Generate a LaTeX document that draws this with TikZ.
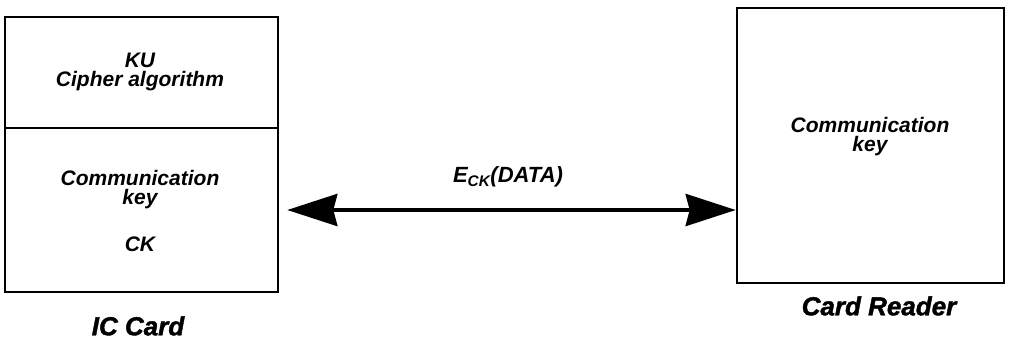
\documentclass[tikz,border=0pt]{standalone}
\usepackage{fontspec}
\setmainfont{Liberation Sans}
\newfontfamily\heavyfont[FakeBold=1.5]{Liberation Sans Bold Italic}
\usetikzlibrary{arrows.meta,calc}
\tikzset{
  box/.style={draw, line width=2.6pt, inner sep=0pt, minimum width=273pt},
  intext/.style={font=\fontsize{21}{19}\selectfont\bfseries\itshape, align=center, inner sep=0pt},
  caption/.style={font=\heavyfont\fontsize{26}{30}\selectfont, inner sep=0pt},
  link/.style={line width=4pt, {Stealth[length=50pt,width=32pt,inset=4pt]}-{Stealth[length=50pt,width=32pt,inset=4pt]}}
}
\begin{document}
\begin{tikzpicture}[x=1pt,y=-1pt]
\useasboundingbox (0,0) rectangle (1014,342);
% IC card
\node[box, minimum height=111pt] (ku) at (141.5,72.5) {};
\node[box, minimum height=164pt] (icb) at (141.5,210) {};
\node[box, minimum width=267pt, minimum height=275pt] (rd) at (870.5,145.5) {};
\node[intext] (kut) at (140,72) {KU\\Cipher algorithm};
\node[intext] (ckt) at (140,190) {Communication\\key};
\node[intext] (ck) at (140,244) {CK};
\node[intext] (rdt) at (870,137) {Communication\\key};
\node[caption] (icl) at (138,326) {IC Card};
\node[caption] (rdl) at (879,306) {Card Reader};
% arrow
\coordinate (ae) at (icb.east -| rd.west);
\draw[link, shorten <=8pt] (icb.east) -- (ae);
\node[font=\fontsize{22}{26}\selectfont\bfseries\itshape, inner sep=0pt] (lab) at (508,177) {E\textsubscript{CK}(DATA)};
\end{tikzpicture}
\end{document}
